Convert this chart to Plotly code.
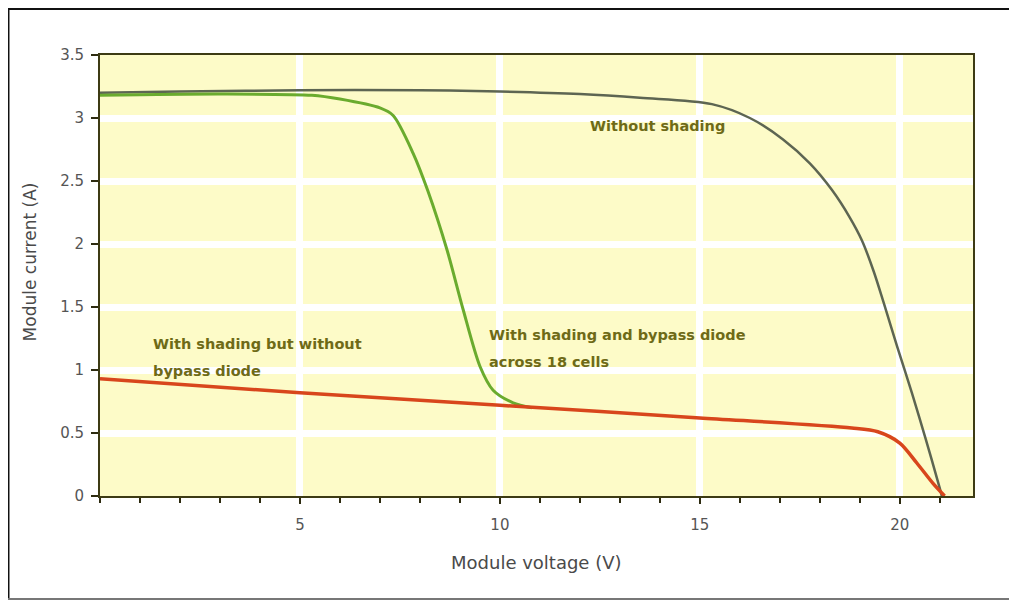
import plotly.graph_objects as go

# ---- data ----
v_no_shade = [0, 2, 5, 8, 10, 12, 13.5, 15.3, 16.25, 17.08, 17.75, 18.3, 18.75, 19.05, 19.35, 19.6, 19.93, 20.3, 20.65, 21.0, 21.05]
i_no_shade = [3.20, 3.21, 3.22, 3.22, 3.21, 3.19, 3.16, 3.11, 3.00, 2.83, 2.64, 2.43, 2.21, 2.03, 1.78, 1.53, 1.19, 0.82, 0.45, 0.06, 0.0]

v_bypass = [0, 3, 5.3, 6, 7, 7.33, 7.83, 8.2, 8.68, 9.08, 9.5, 9.83, 10.33, 10.8]
i_bypass = [3.18, 3.19, 3.18, 3.15, 3.08, 3.02, 2.72, 2.42, 1.95, 1.48, 1.03, 0.84, 0.74, 0.70]

v_no_bypass = [0, 5, 10, 15, 18.8, 19.45, 20.0, 20.43, 20.83, 21.12]
i_no_bypass = [0.93, 0.82, 0.72, 0.62, 0.54, 0.51, 0.42, 0.26, 0.10, 0.0]

x_tick_vals = [5, 10, 15, 20]
x_tick_text = ["5", "10", "15", "20"]
y_tick_vals = [0, 0.5, 1, 1.5, 2, 2.5, 3, 3.5]
y_tick_text = ["0", "0.5", "1", "1.5", "2", "2.5", "3", "3.5"]

labels = [
    ("Without shading", 12.2, 2.94),
    ("With shading and bypass diode", 9.68, 1.28),
    ("across 18 cells", 9.68, 1.06),
    ("With shading but without", 1.28, 1.21),
    ("bypass diode", 1.28, 0.99),
]

fig = go.Figure()
fig.add_trace(go.Scatter(x=v_no_shade, y=i_no_shade, mode="lines",
                         line=dict(color="#5d6552", width=2.5, shape="spline", smoothing=0.9),
                         name="Without shading"))
fig.add_trace(go.Scatter(x=v_bypass, y=i_bypass, mode="lines",
                         line=dict(color="#6aab2e", width=3, shape="spline", smoothing=0.8),
                         name="With shading and bypass diode"))
fig.add_trace(go.Scatter(x=v_no_bypass, y=i_no_bypass, mode="lines",
                         line=dict(color="#d8461c", width=3.5, shape="spline", smoothing=0.8),
                         name="With shading but without bypass diode"))

for text, xv, yv in labels:
    fig.add_annotation(x=xv, y=yv, text=text, showarrow=False, xanchor="left", yanchor="middle",
                       font=dict(family="DejaVu Sans", size=14.5, color="#6e6a17", weight="bold"))

# axis titles
fig.add_annotation(xref="paper", yref="paper", x=0.5, y=-0.1497, text="Module voltage (V)",
                   showarrow=False, xanchor="center", yanchor="middle",
                   font=dict(family="DejaVu Sans", size=18, color="#4a4a4a"))
fig.add_annotation(xref="paper", yref="paper", x=-0.08, y=0.53, text="Module current (A)",
                   showarrow=False, xanchor="center", yanchor="middle", textangle=-90,
                   font=dict(family="DejaVu Sans", size=17, color="#4a4a4a"))

# outer frame of the figure (paper coords relative to plot area 873x441)
frame = [
    (-0.1054, -0.2336, -0.1054, 1.1043, "#111111", 3),
    (-0.1054, 1.1043, 1.0481, 1.1043, "#111111", 2),
    (1.0481, 1.1043, 1.0481, -0.2336, "#222222", 2),
    (-0.1054, -0.2336, 1.0481, -0.2336, "#777777", 2),
]
for x0, y0, x1, y1, c, w in frame:
    fig.add_shape(type="line", xref="paper", yref="paper", x0=x0, y0=y0, x1=x1, y1=y1,
                  line=dict(color=c, width=w))

fig.update_layout(
    width=1009, height=593,
    margin=dict(l=92, r=44, t=47, b=105),
    paper_bgcolor="white",
    plot_bgcolor="#fdfbc8",
    showlegend=False,
    font=dict(family="DejaVu Sans", color="#555555"),
)
fig.update_xaxes(
    range=[0, 21.83], tickvals=x_tick_vals, ticktext=x_tick_text,
    showgrid=True, gridcolor="white", gridwidth=7,
    showline=True, mirror=True, linecolor="#3d3b14", linewidth=2,
    ticks="outside", ticklen=6, tickwidth=2, tickcolor="#2d2b10",
    ticklabelstandoff=8,
    tickfont=dict(family="DejaVu Sans", size=15, color="#555555"),
    minor=dict(tick0=0, dtick=1, ticks="outside", ticklen=5, tickwidth=2, tickcolor="#2d2b10", showgrid=False),
    zeroline=False,
)
fig.update_yaxes(
    range=[0, 3.5], tickvals=y_tick_vals, ticktext=y_tick_text,
    showgrid=True, gridcolor="white", gridwidth=7,
    showline=True, mirror=True, linecolor="#3d3b14", linewidth=2,
    ticks="outside", ticklen=7, tickwidth=2, tickcolor="#2d2b10",
    ticklabelstandoff=4,
    tickfont=dict(family="DejaVu Sans", size=15, color="#555555"),
    zeroline=False,
)

fig.write_html("out.html")
